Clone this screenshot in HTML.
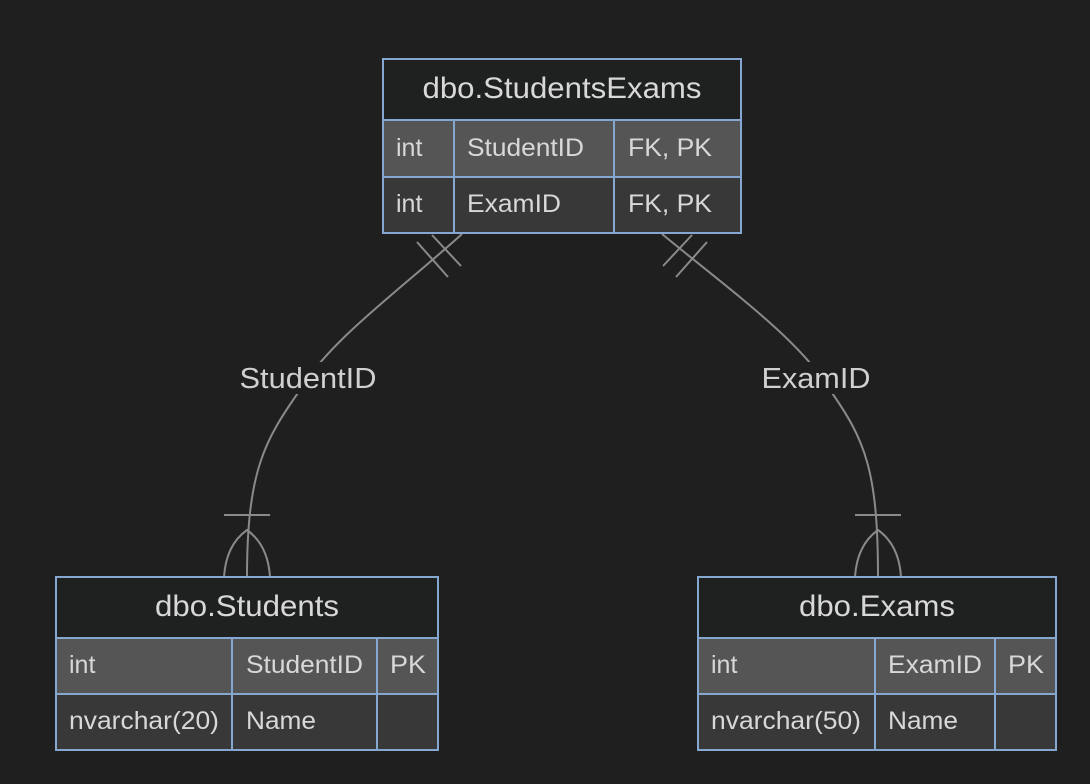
<!DOCTYPE html>
<html><head><style>
body{margin:0;background:#1f1f1f;width:1090px;height:784px;overflow:hidden;font-family:"Liberation Sans",Arial,sans-serif}
svg{position:absolute;left:0;top:0}
</style></head><body>
<svg width="1090" height="784" viewBox="0 0 1090 784">
<g fill="none" stroke="#8a8a8a" stroke-width="2">
<path d="M462,234 C400,290 330,340 300,390 C265,440 247,470 247,577"/>
<path d="M662,234 C730,290 800,340 830,390 C865,440 878,470 878,577"/>
<line x1="417" y1="242" x2="448" y2="277"/><line x1="432" y1="235" x2="461" y2="266"/>
<line x1="707" y1="242" x2="676" y2="277"/><line x1="692" y1="235" x2="663" y2="266"/>
<line x1="224" y1="515" x2="270" y2="515"/>
<path d="M224,577 Q226,545 247,530 Q268,545 270,577"/>
<line x1="855" y1="515" x2="901" y2="515"/>
<path d="M855,577 Q857,545 878,530 Q899,545 901,577"/>
</g>
<rect x="238" y="362" width="142" height="32" fill="#1f1f1f"/>
<rect x="760" y="362" width="114" height="32" fill="#1f1f1f"/>
<g font-size="29" fill="#d0d0d0" text-anchor="middle" textLength="0">
<text x="308" y="388" textLength="137" lengthAdjust="spacingAndGlyphs">StudentID</text>
<text x="816" y="388" textLength="109" lengthAdjust="spacingAndGlyphs">ExamID</text>
</g>
<g stroke="#86a8d0" stroke-width="2">
<rect x="383" y="59" width="358" height="61" fill="#1f2020"/>
<rect x="383" y="120" width="358" height="57" fill="#555"/>
<rect x="383" y="177" width="358" height="56" fill="#383838"/>
<line x1="454" y1="120" x2="454" y2="233"/><line x1="614" y1="120" x2="614" y2="233"/>
<rect x="56" y="577" width="382" height="61" fill="#1f2020"/>
<rect x="56" y="638" width="382" height="56" fill="#555"/>
<rect x="56" y="694" width="382" height="56" fill="#383838"/>
<line x1="232" y1="638" x2="232" y2="750"/><line x1="377" y1="638" x2="377" y2="750"/>
<rect x="698" y="577" width="358" height="61" fill="#1f2020"/>
<rect x="698" y="638" width="358" height="56" fill="#555"/>
<rect x="698" y="694" width="358" height="56" fill="#383838"/>
<line x1="875" y1="638" x2="875" y2="750"/><line x1="995" y1="638" x2="995" y2="750"/>
</g>
<g fill="#d8d8d8" font-size="30" text-anchor="middle">
<text x="562" y="98" textLength="279" lengthAdjust="spacingAndGlyphs">dbo.StudentsExams</text>
<text x="247" y="616" textLength="184" lengthAdjust="spacingAndGlyphs">dbo.Students</text>
<text x="877" y="616" textLength="156" lengthAdjust="spacingAndGlyphs">dbo.Exams</text>
</g>
<g fill="#d8d8d8" font-size="25">
<text x="396" y="156">int</text><text x="467" y="156" textLength="117" lengthAdjust="spacingAndGlyphs">StudentID</text><text x="628" y="156" textLength="84" lengthAdjust="spacingAndGlyphs">FK, PK</text>
<text x="396" y="212">int</text><text x="467" y="212" textLength="94" lengthAdjust="spacingAndGlyphs">ExamID</text><text x="628" y="212" textLength="84" lengthAdjust="spacingAndGlyphs">FK, PK</text>
<text x="69" y="673">int</text><text x="246" y="673" textLength="117" lengthAdjust="spacingAndGlyphs">StudentID</text><text x="390" y="673" textLength="36" lengthAdjust="spacingAndGlyphs">PK</text>
<text x="69" y="729" textLength="150" lengthAdjust="spacingAndGlyphs">nvarchar(20)</text><text x="246" y="729" textLength="70" lengthAdjust="spacingAndGlyphs">Name</text>
<text x="711" y="673">int</text><text x="888" y="673" textLength="94" lengthAdjust="spacingAndGlyphs">ExamID</text><text x="1008" y="673" textLength="36" lengthAdjust="spacingAndGlyphs">PK</text>
<text x="711" y="729" textLength="150" lengthAdjust="spacingAndGlyphs">nvarchar(50)</text><text x="888" y="729" textLength="70" lengthAdjust="spacingAndGlyphs">Name</text>
</g>
</svg>
</body></html>
